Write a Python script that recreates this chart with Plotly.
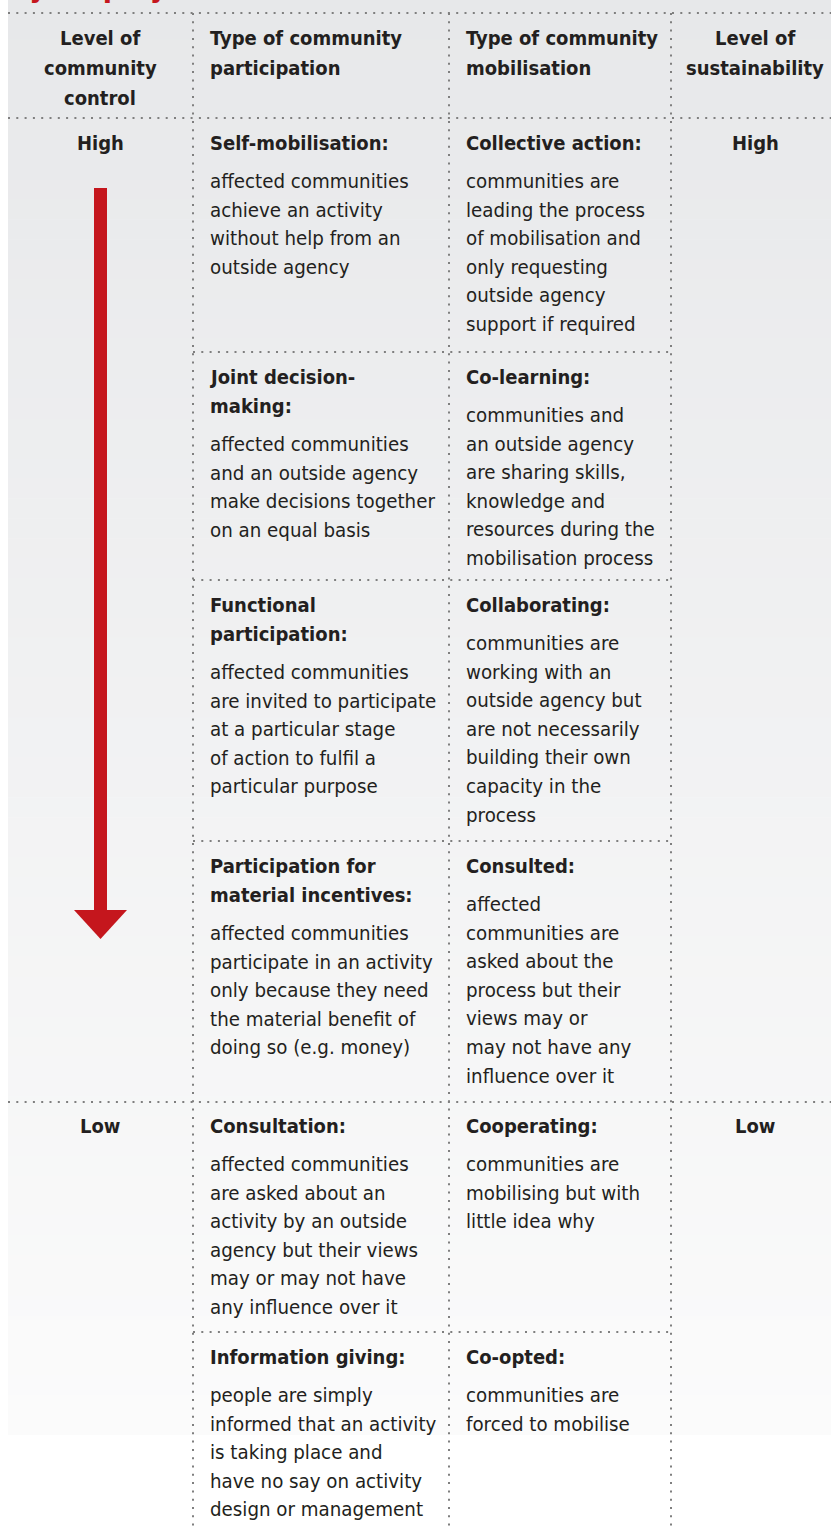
import plotly.graph_objects as go

# ---------------- data (table content) ----------------
header_control = ["Level of", "community", "control"]
header_participation = ["Type of community", "participation"]
header_mobilisation = ["Type of community", "mobilisation"]
header_sustainability = ["Level of", "sustainability"]

control_levels = ["High", "Low"]          # rows where they appear: 0 and 4
sustainability_levels = ["High", "Low"]
level_rows = [0, 4]

participation_titles = [
    ["Self-mobilisation:"],
    ["Joint decision-", "making:"],
    ["Functional", "participation:"],
    ["Participation for", "material incentives:"],
    ["Consultation:"],
    ["Information giving:"],
]
participation_desc = [
    ["affected communities", "achieve an activity", "without help from an", "outside agency"],
    ["affected communities", "and an outside agency", "make decisions together", "on an equal basis"],
    ["affected communities", "are invited to participate", "at a particular stage", "of action to fulfil a", "particular purpose"],
    ["affected communities", "participate in an activity", "only because they need", "the material benefit of", "doing so (e.g. money)"],
    ["affected communities", "are asked about an", "activity by an outside", "agency but their views", "may or may not have", "any influence over it"],
    ["people are simply", "informed that an activity", "is taking place and", "have no say on activity", "design or management"],
]
mobilisation_titles = [
    ["Collective action:"],
    ["Co-learning:"],
    ["Collaborating:"],
    ["Consulted:"],
    ["Cooperating:"],
    ["Co-opted:"],
]
mobilisation_desc = [
    ["communities are", "leading the process", "of mobilisation and", "only requesting", "outside agency", "support if required"],
    ["communities and", "an outside agency", "are sharing skills,", "knowledge and", "resources during the", "mobilisation process"],
    ["communities are", "working with an", "outside agency but", "are not necessarily", "building their own", "capacity in the", "process"],
    ["affected", "communities are", "asked about the", "process but their", "views may or", "may not have any", "influence over it"],
    ["communities are", "mobilising but with", "little idea why"],
    ["communities are", "forced to mobilise"],
]
page_title_fragment = "by employees"

# ---------------- layout constants ----------------
W, H = 831, 1528
row_title_y = [143, 377, 605, 866, 1126, 1357]
header_y0 = 38
TITLE_STEP = 29
BODY_GAP = 38
BODY_STEP = 28.6
col_x = {"c1": 100, "c2": 208, "c3": 464, "c4": 755}
vlines_x = [193, 449, 671]
panel_left, panel_bottom = 8, 1435

TXT = "#231f20"
DOT = "#7f7f7f"
RED = "#c5161d"
FONT = "DejaVu Sans Condensed, Liberation Sans Narrow, sans-serif"
TITLE_SIZE = 20
BODY_SIZE = 20.3

fig = go.Figure()
shapes = []
annotations = []

# background gradient panel
top_c = (231, 232, 234)
bot_c = (251, 251, 251)
nb = 72
for i in range(nb):
    t = i / (nb - 1)
    c = tuple(round(top_c[k] + (bot_c[k] - top_c[k]) * t) for k in range(3))
    y0 = panel_bottom * i / nb
    y1 = panel_bottom * (i + 1) / nb + 0.6
    shapes.append(dict(type="rect", xref="x", yref="y", x0=panel_left, x1=W, y0=y0,
                       y1=min(y1, panel_bottom), fillcolor="rgb(%d,%d,%d)" % c,
                       line=dict(width=0), layer="below"))

dot_line = dict(color=DOT, width=2, dash="2px,6.3px")
# full width horizontal rules
for y in [13, 118, row_title_y[4] - 24]:
    shapes.append(dict(type="line", xref="x", yref="y", x0=panel_left, x1=W, y0=y, y1=y, line=dot_line))
# sub-row rules (middle columns)
for r in [1, 2, 3, 5]:
    y = row_title_y[r] - 25
    shapes.append(dict(type="line", xref="x", yref="y", x0=vlines_x[0], x1=vlines_x[2], y0=y, y1=y, line=dot_line))
# vertical rules
for x in vlines_x:
    shapes.append(dict(type="line", xref="x", yref="y", x0=x, x1=x, y0=13, y1=H, line=dot_line))

# arrow
shapes.append(dict(type="rect", xref="x", yref="y", x0=94, x1=107, y0=188, y1=911,
                   fillcolor=RED, line=dict(width=0)))
shapes.append(dict(type="path", xref="x", yref="y", path="M 74,910 L 127,910 L 100.5,939 Z",
                   fillcolor=RED, line=dict(width=0)))


def add_text(x, y, text, bold=False, anchor="left", size=None, color=TXT):
    annotations.append(dict(
        x=x, y=y, xref="x", yref="y", text=("<b>%s</b>" % text) if bold else text,
        showarrow=False, xanchor=anchor, yanchor="middle",
        font=dict(family=FONT, size=size or (TITLE_SIZE if bold else BODY_SIZE), color=color)))


# headers
for lines, key, anc in [(header_control, "c1", "center"), (header_participation, "c2", "left"),
                        (header_mobilisation, "c3", "left"), (header_sustainability, "c4", "center")]:
    for i, ln in enumerate(lines):
        add_text(col_x[key], header_y0 + i * 30, ln, bold=True, anchor=anc)

# level labels
for r, lc, ls in zip(level_rows, control_levels, sustainability_levels):
    add_text(col_x["c1"], row_title_y[r], lc, bold=True, anchor="center")
    add_text(col_x["c4"], row_title_y[r], ls, bold=True, anchor="center")

# cells
for key, titles, descs in [("c2", participation_titles, participation_desc),
                           ("c3", mobilisation_titles, mobilisation_desc)]:
    for r, (tl, dl) in enumerate(zip(titles, descs)):
        y = row_title_y[r]
        for i, ln in enumerate(tl):
            add_text(col_x[key], y + i * TITLE_STEP, ln, bold=True)
        yb = y + (len(tl) - 1) * TITLE_STEP + BODY_GAP
        for j, ln in enumerate(dl):
            add_text(col_x[key], yb + j * BODY_STEP, ln)

# cut-off red page title at very top
annotations.append(dict(x=8, y=6, xref="x", yref="y", text="<b>%s</b>" % page_title_fragment,
                        showarrow=False, xanchor="left", yanchor="bottom",
                        font=dict(family=FONT, size=30, color=RED)))

fig.update_layout(
    width=W, height=H, margin=dict(l=0, r=0, t=0, b=0),
    paper_bgcolor="white", plot_bgcolor="rgba(0,0,0,0)",
    xaxis=dict(range=[0, W], visible=False, fixedrange=True),
    yaxis=dict(range=[H, 0], visible=False, fixedrange=True),
    shapes=shapes, annotations=annotations, showlegend=False,
)
fig.write_html("out.html", config=dict(displayModeBar=False),
               post_script="document.body.style.margin='0';document.body.style.overflow='hidden';")
